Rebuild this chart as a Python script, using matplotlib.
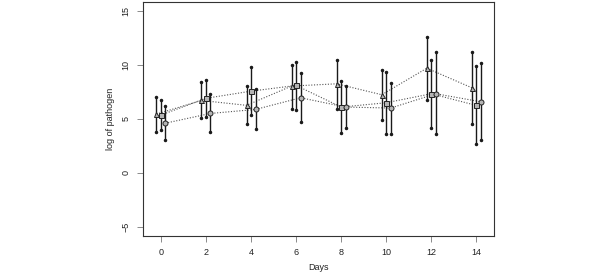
import matplotlib
matplotlib.use("Agg")
import matplotlib.pyplot as plt
import numpy as np

days = [0, 2, 4, 6, 8, 10, 12, 14]
offset_tri, offset_sq, offset_circ = -0.2, 0.0, 0.2

tri_mean = [5.44, 6.70, 6.25, 8.03, 8.24, 7.23, 9.68, 7.87]
tri_hi   = [7.00, 8.40, 8.00, 10.00, 10.45, 9.56, 12.60, 11.16]
tri_lo   = [3.80, 5.10, 4.50, 5.90, 5.94, 4.86, 6.70, 4.52]

sq_mean = [5.35, 6.90, 7.56, 8.09, 6.09, 6.49, 7.32, 6.24]
sq_hi   = [6.70, 8.60, 9.80, 10.24, 8.50, 9.30, 10.48, 9.84]
sq_lo   = [4.00, 5.20, 5.40, 5.85, 3.70, 3.57, 4.12, 2.71]

circ_mean = [4.60, 5.50, 5.87, 6.95, 6.09, 6.00, 7.32, 6.58]
circ_hi   = [6.15, 7.26, 7.75, 9.20, 8.00, 8.36, 11.16, 10.18]
circ_lo   = [3.08, 3.80, 4.10, 4.70, 4.20, 3.57, 3.57, 3.02]

yticks = [-5, 0, 5, 10, 15]
xticks = days

plt.rcParams['font.family'] = ['Liberation Sans', 'DejaVu Sans']
fig = plt.figure(figsize=(6.0, 2.77), dpi=100)
ax = fig.add_axes([0.2388, 0.149, 0.5845, 0.8438])

series = [
    (offset_tri, tri_mean, tri_lo, tri_hi, '^'),
    (offset_sq, sq_mean, sq_lo, sq_hi, 's'),
    (offset_circ, circ_mean, circ_lo, circ_hi, 'o'),
]
for off, m, lo, hi, mk in series:
    x = np.array(days) + off
    ax.plot(x, m, linestyle=(0, (1, 1.5)), color='#555555', lw=0.8, zorder=1)
    ax.vlines(x, lo, hi, color='#1a1a1a', lw=1.0, zorder=2)
    ax.plot(x, lo, linestyle='none', marker='o', ms=1.5, color='#1a1a1a', zorder=2)
    ax.plot(x, hi, linestyle='none', marker='o', ms=1.5, color='#1a1a1a', zorder=2)
    ax.plot(x, m, linestyle='none', marker=mk, ms=3.6, mfc='#b4b4b4', mec='#222222',
            mew=0.7, zorder=3)

ax.set_xlim(-0.78, 14.78)
ax.set_ylim(-5.8, 15.8)
ax.set_xticks(xticks)
ax.set_yticks(yticks)
ax.tick_params(axis='both', length=4, width=0.6, color='#777777', labelsize=6.5,
               pad=5, labelcolor='#222222')
for lab in ax.get_yticklabels():
    lab.set_rotation(90)
    lab.set_va('center')
for s in ax.spines.values():
    s.set_linewidth(0.8)
    s.set_color('#333333')
ax.set_xlabel('Days', fontsize=6.5, labelpad=4, color='#222222')
ax.set_ylabel('log of pathogen', fontsize=6.5, labelpad=5, color='#222222')

fig.savefig('out.png', dpi=100)
